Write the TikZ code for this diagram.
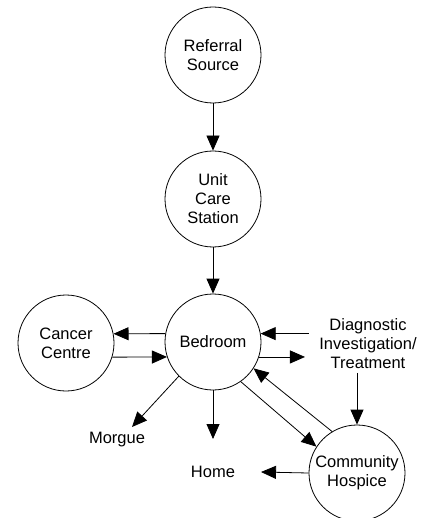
\documentclass[tikz,border=0pt]{standalone}
\usepackage{fontspec}
\setmainfont{Liberation Sans}
\usepackage{tikz}
\usetikzlibrary{arrows, arrows.meta}

\begin{document}
\begin{tikzpicture}[x=1pt, y=-1pt, line width=0.8pt, >={Triangle[length=15pt, width=13pt]}]
\tikzstyle{place}=[circle, draw, minimum size=96pt, inner sep=0pt, align=center, font=\fontsize{16.5}{19}\selectfont]
\tikzstyle{plain}=[align=center, inner xsep=10pt, font=\fontsize{16.5}{19}\selectfont]
\useasboundingbox (0,0) rectangle (429,518);
\node[place] (ref) at (213,55) {Referral\\Source};
\node[place] (ucs) at (213,199) {Unit\\Care\\Station};
\node[place] (bed) at (213,342) {Bedroom};
\node[place] (cc) at (66,343) {Cancer\\Centre};
\node[place] (hosp) at (357,473) {Community\\Hospice};
\node[plain] (diag) at (368,344) {Diagnostic\\Investigation/\\Treatment};
\node[plain] (morgue) at (117,440) {Morgue};
\node[plain] (home) at (213,472) {Home};
\coordinate (morguetip) at (132,427);
\coordinate (hometip) at (213,439);
\coordinate (hosptip) at (261,472);

\path[->]
(ref) edge (ucs)
(ucs) edge (bed)
(bed.170) edge (cc.11)
(cc.343) edge (bed.198)
(diag.west |- bed.10) edge (bed.10)
(bed.342) edge ([xshift=-4pt]diag.west |- bed.342)
(diag.south -| hosp.north) edge (hosp.north)
(bed.225) edge (morguetip)
(bed.south) edge (hometip)
(bed.305) edge (hosp.147)
(hosp.121) edge (bed.327)
(hosp.west) edge (hosptip);

\end{tikzpicture}
\end{document}
